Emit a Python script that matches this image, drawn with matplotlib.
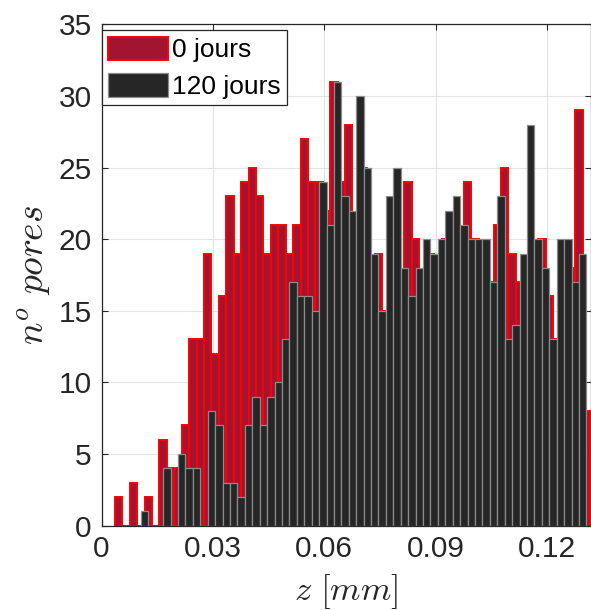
import numpy as np
import matplotlib
matplotlib.use("Agg")
import matplotlib.pyplot as plt

plt.rcParams['font.family'] = ['Liberation Sans', 'DejaVu Sans']
plt.rcParams['mathtext.fontset'] = 'cm'

# ---- data (counts per bin) ----
bin_width = 0.002
red_first_edge = 0.0036     # "0 jours" first bin left edge
black_first_edge = 0.0106   # "120 jours" first bin left edge

red_counts = [2, 0, 3, 0, 2, 0, 6, 4, 4, 7,
              13, 13, 19, 12, 16, 23, 19, 24, 25, 23,
              19, 21, 21, 19, 21, 27, 24, 24, 22, 31,
              24, 28, 21, 25, 18, 19, 15, 20, 17, 24,
              20, 17, 19, 18, 20, 21, 20, 24, 20, 19,
              17, 21, 25, 19, 17, 18, 19, 20, 16, 13,
              19, 18, 29, 8]

black_counts = [1, 0, 0, 4, 0, 5, 4, 4, 0, 8,
                7, 3, 3, 2, 7, 9, 7, 9, 10, 13,
                17, 16, 16, 15, 24, 21, 31, 23, 22, 30,
                25, 19, 15, 23, 25, 18, 16, 18, 20, 19,
                20, 22, 23, 21, 20, 20, 20, 17, 23, 13,
                14, 19, 28, 20, 18, 13, 20, 20, 17, 19]

labels = ['0 jours', '120 jours']
xticks = [0, 0.03, 0.06, 0.09, 0.12]
xtick_labels = ['0', '0.03', '0.06', '0.09', '0.12']
yticks = [0, 5, 10, 15, 20, 25, 30, 35]

red_left = red_first_edge + bin_width * np.arange(len(red_counts))
black_left = black_first_edge + bin_width * np.arange(len(black_counts))

W, H = 591, 610
fig = plt.figure(figsize=(W / 100, H / 100), dpi=100)
ax = fig.add_axes([101.5 / W, 1 - 525.7 / H, 489 / W, (525.7 - 24.3) / H])

txt = '#262626'
ax.bar(red_left, red_counts, width=bin_width, align='edge',
       color='#A2142F', edgecolor='#FF0000', linewidth=1.4,
       label=labels[0], zorder=2)
ax.bar(black_left, black_counts, width=bin_width, align='edge',
       color='#262626', edgecolor='#8C8C8C', linewidth=0.9,
       label=labels[1], zorder=3)

ax.set_xlim(0, 0.1317)
ax.set_ylim(0, 35)
ax.set_xticks(xticks)
ax.set_xticklabels(xtick_labels)
ax.set_yticks(yticks)

ax.set_axisbelow(True)
ax.grid(True, color='#E3E3E3', linewidth=0.8)
for s in ax.spines.values():
    s.set_color(txt)
    s.set_linewidth(0.9)
    s.set_zorder(5)
ax.tick_params(direction='in', length=4, width=0.8, top=True, right=True,
               labelsize=21.5, colors=txt, pad=7)

ax.set_xlabel(r'$z\ [mm]$', fontsize=25, color=txt, labelpad=6)
ax.set_ylabel(r'$n^o\ pores$', fontsize=27, color=txt, labelpad=4)

leg = ax.legend(loc='upper left', bbox_to_anchor=(0, 1 - 5.7 / 501.4),
                borderaxespad=0, fontsize=19, frameon=True, fancybox=False,
                framealpha=1, edgecolor=txt, handlelength=2.27,
                handleheight=1.0, handletextpad=0.15, labelspacing=0.4,
                borderpad=0.25)
leg.get_frame().set_linewidth(0.9)
leg.set_zorder(10)
for t in leg.get_texts():
    t.set_color('black')

fig.savefig('out.png', dpi=100)
